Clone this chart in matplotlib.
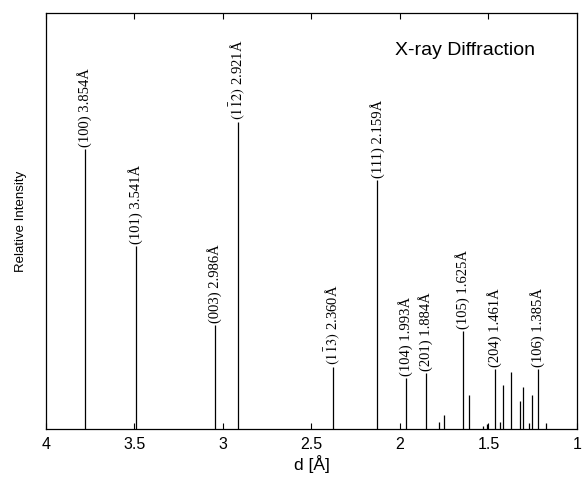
import matplotlib
matplotlib.use("Agg")
import matplotlib.pyplot as plt

plt.rcParams['mathtext.fontset'] = 'stix'

# peak positions (d in Angstrom, as drawn) and relative intensities
d_pos = [3.782, 3.493, 3.046, 2.916, 2.376, 2.127, 1.966, 1.855, 1.780, 1.750,
         1.644, 1.609, 1.529, 1.510, 1.464, 1.434, 1.420, 1.370, 1.324, 1.303,
         1.268, 1.253, 1.222, 1.172]
intensity = [67.3, 44.0, 25.0, 73.8, 14.9, 59.9, 12.2, 13.5, 1.6, 3.4,
             23.6, 8.2, 0.8, 1.2, 14.4, 1.8, 10.6, 13.8, 6.8, 10.2,
             1.4, 8.2, 14.4, 1.4]
peak_labels = ["(100) 3.854Å", "(101) 3.541Å", "(003) 2.986Å",
               r"$(1\bar{1}2)$ 2.921Å", r"$(1\bar{1}3)$ 2.360Å", "(111) 2.159Å",
               "(104) 1.993Å", "(201) 1.884Å", None, None,
               "(105) 1.625Å", None, None, None, "(204) 1.461Å", None, None,
               None, None, None, None, None, "(106) 1.385Å", None]
x_ticks = [4, 3.5, 3, 2.5, 2, 1.5, 1]
x_ticklabels = ["4", "3.5", "3", "2.5", "2", "1.5", "1"]

fig = plt.figure(figsize=(5.84, 4.87), dpi=100)
ax = fig.add_axes([0.0788, 0.119, 0.909, 0.854])

ax.vlines(d_pos, 0, intensity, color='black', lw=0.9)

for d, h, lab in zip(d_pos, intensity, peak_labels):
    if lab is None:
        continue
    ax.annotate(lab, (d, h), xytext=(0, 1.5), textcoords='offset points',
                rotation=90, ha='center', va='bottom',
                family='Liberation Serif', fontsize=10.5)

ax.text(0.79, 0.91, "X-ray Diffraction", transform=ax.transAxes,
        ha='center', va='center', family='Liberation Sans', fontsize=14)

ax.set_xlim(4, 1)
ax.set_ylim(0, 100)
ax.set_xticks(x_ticks)
ax.set_xticklabels(x_ticklabels, family='Liberation Sans', fontsize=11.5)
ax.set_yticks([])
ax.tick_params(axis='x', direction='in', top=True, length=4, width=0.8, pad=6)
for s in ax.spines.values():
    s.set_linewidth(0.9)

ax.set_xlabel("d [Å]", family='Liberation Sans', fontsize=12.5, labelpad=2)
ax.set_ylabel("Relative Intensity", family='Liberation Sans', fontsize=9.5, labelpad=14)

fig.savefig("out.png", dpi=100)
